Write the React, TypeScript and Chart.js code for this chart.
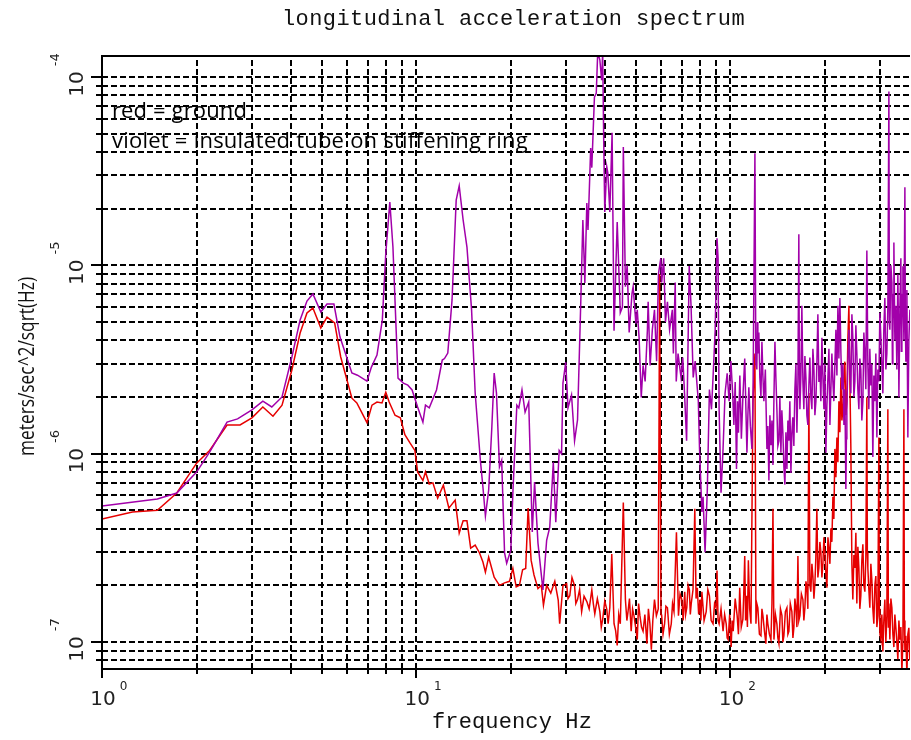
import { useEffect, useRef } from "react";
import { Chart, registerables } from "chart.js";

Chart.register(...registerables);

// Insulated tube on stiffening ring (violet trace): frequency in Hz, amplitude in m/s^2/sqrt(Hz)
const violetFreq = [
  1.0, 1.5, 1.73, 2.0, 2.2, 2.5, 2.7, 3.0, 3.25, 3.47, 3.74, 4.02, 4.27, 4.49, 4.69, 4.97, 5.2, 5.47, 5.72, 6.24,
  6.5, 6.97, 7.2, 7.5, 7.8, 8.0, 8.24, 8.43, 8.75, 9.1, 9.4, 9.7, 10.1, 10.5, 10.7, 11.0, 11.6, 12.1, 12.3, 12.6,
  13.0, 13.4, 13.7, 14.1, 14.5, 15.0, 15.4, 16.0, 16.3, 16.6, 17.0, 17.4, 17.7, 18.0, 18.4, 18.7, 19.1, 19.4, 20.0, 20.3,
  20.9, 21.2, 21.7, 22.2, 22.8, 23.4, 23.8, 24.4, 25.3, 26.0, 26.6, 27.3, 27.8, 28.5, 29.0, 29.3, 29.9, 30.4, 31.2, 31.9,
  32.6, 33.4, 33.9, 34.4, 34.9, 35.2, 35.9, 36.2, 36.9, 37.4, 37.8, 38.4, 38.9, 39.2, 39.5, 39.8, 40.4, 40.7, 41.3, 42.0,
  42.6, 43.6, 44.6, 45.3, 45.6, 46.3, 46.9, 47.6, 48.6, 49.0, 50.0, 50.5, 51.2, 52.0, 52.7, 53.5, 54.4, 54.7, 55.5, 56.4,
  57.3, 58.2, 59.0, 60.0, 60.4, 61.3, 62.1, 63.0, 64.0, 65.3, 65.8, 66.7, 67.2, 68.1, 69.6, 70.5, 71.5, 72.5, 73.9, 74.9,
  76.1, 77.2, 79.0, 79.7, 81.1, 81.8, 83.0, 84.4, 85.7, 87.0, 88.0, 89.4, 90.6, 91.3, 92.0, 93.3, 94.7, 96.1, 97.6, 99.0,
  100.3, 101.6, 102.5, 103.5, 104.5, 105.3, 106.0, 107.1, 108.3, 109.5, 111.0, 112.8, 113.6, 114.4, 115.7, 117.0, 117.9, 119.6, 120.4, 121.3,
  121.8, 122.2, 123.1, 124.0, 125.0, 125.9, 126.8, 127.7, 129.1, 130.6, 131.5, 132.5, 133.5, 134.5, 135.5, 136.5, 137.5, 138.5, 139.5, 140.5,
  141.5, 142.6, 143.6, 144.7, 145.7, 146.8, 147.9, 149.0, 150.1, 151.2, 152.3, 153.4, 154.5, 155.7, 156.8, 157.9, 159.1, 160.3, 161.5, 162.7,
  163.9, 165.0, 165.6, 166.3, 167.5, 168.7, 170.0, 171.2, 172.5, 173.8, 175.0, 176.3, 177.6, 178.9, 180.2, 181.6, 182.9, 184.3, 185.6, 187.0,
  188.3, 189.7, 191.1, 192.5, 193.9, 195.4, 196.8, 198.3, 199.7, 201.2, 202.7, 204.2, 205.7, 207.2, 208.7, 210.2, 211.8, 213.3, 214.9, 216.5,
  218.1, 219.7, 221.3, 222.9, 224.6, 226.2, 227.9, 229.6, 231.2, 232.9, 233.8, 234.6, 236.3, 238.1, 239.8, 241.6, 243.4, 245.1, 247.0, 248.8,
  250.6, 252.4, 254.3, 256.2, 258.0, 259.9, 261.8, 263.8, 265.7, 267.7, 269.6, 271.6, 273.6, 275.6, 277.6, 279.7, 281.7, 283.8, 285.9, 288.0,
  290.1, 292.3, 294.4, 296.6, 298.8, 301.0, 303.2, 305.4, 307.6, 309.9, 312.2, 314.5, 316.8, 319.2, 320.3, 321.5, 323.9, 326.3, 327.5, 328.7,
  329.9, 331.1, 333.5, 336.0, 338.4, 340.9, 342.2, 343.5, 346.0, 348.5, 349.8, 351.1, 352.4, 353.7, 356.3, 358.9, 360.2, 361.5, 362.8, 364.2,
  365.5, 366.8, 369.5, 372.3,
];
const violetAmp = [
  5.27e-7, 5.74e-7, 6.18e-7, 7.98e-7, 1.02e-6, 1.47e-6, 1.53e-6, 1.71e-6, 1.9e-6, 1.77e-6, 2.0e-6, 3.26e-6, 5.13e-6, 6.46e-6, 7.04e-6, 5.65e-6, 6.23e-6, 6.23e-6, 4.16e-6, 2.68e-6,
  2.61e-6, 2.43e-6, 2.88e-6, 3.34e-6, 5.13e-6, 1.16e-5, 2.17e-5, 1.25e-5, 2.52e-6, 2.37e-6, 2.31e-6, 2.18e-6, 1.77e-6, 1.47e-6, 1.81e-6, 1.75e-6, 2.18e-6, 3.14e-6, 3.2e-6, 3.42e-6,
  6.55e-6, 2.22e-5, 2.64e-5, 1.74e-5, 1.25e-5, 5.8e-6, 2.1e-6, 9.2e-7, 6.65e-7, 4.67e-7, 6.4e-7, 1.38e-6, 2.68e-6, 2.1e-6, 8.5e-7, 9.2e-7, 2.97e-7, 2.62e-7, 3.08e-7, 6.2e-7,
  1.81e-6, 1.75e-6, 2.18e-6, 1.66e-6, 1.88e-6, 3.84e-7, 7.06e-7, 3.35e-7, 1.89e-7, 3.47e-7, 4.07e-7, 9.0e-7, 4.33e-7, 1.04e-6, 1.0e-6, 2.37e-6, 3.06e-6, 1.75e-6, 2.05e-6, 1.17e-6,
  1.51e-6, 6.55e-6, 1.74e-5, 8.05e-6, 2.14e-5, 1.54e-5, 4.2e-5, 3.3e-5, 7.8e-5, 8.2e-5, 1.35e-4, 1.23e-4, 9.6e-5, 1.35e-4, 4.6e-5, 1.92e-5, 3.33e-5, 3.1e-5, 1.92e-5, 5.05e-5,
  4.5e-6, 1.7e-5, 5.6e-6, 6.0e-6, 4.25e-5, 7.7e-6, 1.0e-5, 4.4e-6, 7.1e-6, 7.7e-6, 4.9e-6, 5.8e-6, 4.1e-6, 1.99e-6, 2.94e-6, 2.42e-6, 4.55e-6, 6.4e-6, 2.94e-6, 4.55e-6,
  5.8e-6, 3.1e-6, 9.0e-6, 1.09e-5, 8.1e-6, 1.09e-5, 5.0e-6, 6.4e-6, 4.55e-6, 5.8e-6, 3.4e-6, 8.1e-6, 2.42e-6, 3.4e-6, 2.54e-6, 3.24e-6, 1.99e-6, 1.17e-6, 9.9e-6, 6.1e-6,
  2.54e-6, 3.1e-6, 1.9e-6, 1.06e-6, 4.9e-7, 5.9e-7, 3.0e-7, 6.5e-7, 2.19e-6, 1.72e-6, 2.54e-6, 4.55e-6, 1.39e-5, 1.09e-5, 1.72e-6, 6.2e-7, 1.06e-6, 2.09e-6, 2.67e-6, 1.9e-6,
  3.1e-6, 2.09e-6, 1.42e-6, 2.4e-6, 8.3e-7, 1.9e-6, 1.29e-6, 2.6e-6, 1.2e-6, 1.99e-6, 3.2e-6, 1.01e-6, 1.6e-6, 2.25e-6, 1.4e-6, 1.06e-6, 1.9e-6, 3.94e-5, 3.0e-6, 2.8e-6,
  5.0e-6, 3.4e-6, 4.4e-6, 2.54e-6, 2.0e-6, 3.93e-6, 2.6e-6, 1.9e-6, 2.8e-6, 1.06e-6, 1.4e-6, 7.2e-7, 1.6e-6, 1.11e-6, 1.5e-6, 8.7e-7, 2.0e-6, 3.93e-6, 2.5e-6, 1.72e-6,
  1.1e-6, 1.17e-6, 2.0e-6, 1.01e-6, 1.7e-6, 1.29e-6, 8.5e-7, 6.85e-7, 1.3e-6, 8.3e-7, 1.5e-6, 1.17e-6, 1.9e-6, 7.9e-7, 1.3e-6, 1.56e-6, 1.1e-6, 2.19e-6, 3.0e-6, 1.29e-6,
  2.4e-6, 1.46e-5, 3.0e-6, 1.72e-6, 2.6e-6, 6.1e-6, 2.4e-6, 1.72e-6, 3.3e-6, 2.54e-6, 1.6e-6, 1.42e-6, 2.3e-6, 3.24e-6, 2.0e-6, 1.72e-6, 3.6e-6, 2.8e-6, 1.6e-6, 1.9e-6,
  3.0e-6, 5.5e-6, 2.4e-6, 2.94e-6, 1.9e-6, 4.12e-6, 2.6e-6, 1.72e-6, 3.0e-6, 1.01e-6, 1.8e-6, 2.54e-6, 3.6e-6, 1.42e-6, 2.2e-6, 3.4e-6, 2.4e-6, 1.9e-6, 3.0e-6, 4.55e-6,
  2.6e-6, 6.1e-6, 3.2e-6, 6.7e-6, 3.4e-6, 2.19e-6, 3.0e-6, 1.42e-6, 2.2e-6, 6.5e-7, 1.2e-6, 1.72e-6, 3.0e-6, 4.55e-6, 2.8e-6, 2.09e-6, 5.5e-6, 4.12e-6, 2.0e-6, 2.42e-6,
  4.8e-6, 3.4e-6, 2.2e-6, 1.72e-6, 3.2e-6, 2.8e-6, 1.5e-6, 1.9e-6, 4.4e-6, 3.4e-6, 2.2e-6, 1.2e-5, 3.0e-6, 1.72e-6, 3.6e-6, 2.3e-6, 3.0e-6, 9.6e-7, 2.6e-6, 1.9e-6,
  3.4e-6, 1.22e-6, 2.8e-6, 2.42e-6, 5.6e-6, 4.12e-6, 3.0e-6, 2.09e-6, 4.6e-6, 6.7e-6, 2.8e-6, 3.4e-6, 6.0e-6, 8.36e-5, 5.0e-6, 4.55e-6, 1.0e-5, 8.1e-6, 3.0e-6, 4.12e-6,
  7.0e-6, 1.32e-5, 4.0e-6, 6.1e-6, 2.8e-6, 8.97e-6, 5.0e-6, 1.99e-6, 6.0e-6, 1.09e-5, 3.5e-6, 4.55e-6, 7.0e-6, 9.9e-6, 4.0e-6, 2.6e-5, 5.0e-6, 3.08e-6, 6.0e-6, 7.4e-6,
  3.0e-6, 1.22e-6, 4.0e-6, 5.8e-6,
];

// Ground (red trace)
const redFreq = [
  1.0, 1.25, 1.5, 1.73, 2.0, 2.2, 2.5, 2.75, 3.0, 3.25, 3.5, 3.74, 4.02, 4.27, 4.49, 4.69, 4.97, 5.2, 5.5, 5.75,
  6.24, 6.47, 6.97, 7.23, 7.5, 7.78, 8.0, 8.2, 8.56, 8.9, 9.2, 9.55, 9.9, 10.1, 10.5, 10.7, 11.0, 11.3, 11.7, 12.2,
  12.7, 13.3, 13.7, 14.1, 14.5, 14.9, 15.4, 15.9, 16.3, 16.6, 17.0, 17.7, 18.4, 19.1, 19.8, 20.3, 20.8, 21.3, 21.8, 22.3,
  22.7, 23.2, 23.7, 24.4, 25.0, 25.4, 26.0, 26.8, 27.6, 28.3, 28.6, 29.3, 30.1, 30.4, 30.8, 31.3, 31.9, 32.2, 32.6, 33.1,
  33.6, 34.2, 34.9, 35.5, 36.2, 36.6, 37.0, 37.7, 38.4, 38.8, 39.2, 39.8, 40.4, 40.8, 41.3, 41.9, 42.6, 43.1, 43.6, 44.1,
  44.6, 45.6, 46.3, 46.8, 47.2, 47.7, 48.3, 48.8, 49.3, 49.9, 50.5, 51.0, 51.5, 52.1, 52.7, 53.4, 54.2, 54.8, 55.4, 56.0,
  56.6, 57.3, 58.1, 58.9, 59.5, 60.1, 60.4, 61.0, 61.7, 62.3, 63.0, 63.9, 64.8, 65.4, 66.1, 67.3, 68.3, 69.1, 70.0, 70.7,
  71.5, 72.0, 72.6, 73.3, 74.0, 74.5, 75.0, 76.0, 77.0, 77.7, 78.4, 79.2, 80.0, 80.5, 81.1, 82.4, 83.7, 84.7, 85.7, 86.8,
  88.0, 89.0, 90.0, 90.6, 91.3, 92.0, 93.3, 94.7, 95.8, 96.9, 97.6, 98.3, 99.4, 100.5, 101.2, 102.0, 103.5, 105.0, 106.0, 107.0,
  108.2, 109.5, 110.2, 111.0, 111.7, 112.4, 113.2, 114.0, 115.1, 116.2, 117.9, 119.6, 120.5, 121.3, 122.2, 123.6, 125.0, 125.9, 126.8, 128.2,
  129.6, 130.6, 131.5, 133.0, 134.5, 135.5, 136.5, 137.5, 139.0, 140.5, 141.5, 142.6, 144.2, 145.8, 146.8, 147.9, 149.5, 151.2, 152.3, 153.4,
  155.0, 156.8, 158.0, 159.1, 160.3, 161.5, 162.7, 163.9, 165.0, 166.3, 168.1, 170.0, 171.2, 172.5, 173.8, 175.0, 176.3, 177.6, 178.9, 180.2,
  181.6, 182.9, 184.3, 185.6, 186.9, 188.3, 189.7, 191.1, 192.5, 193.9, 195.4, 196.8, 198.3, 199.7, 201.2, 202.7, 204.2, 205.7, 207.2, 208.7,
  210.2, 211.8, 213.3, 214.9, 216.5, 218.1, 219.7, 221.3, 222.9, 224.6, 226.2, 227.9, 229.6, 231.2, 232.9, 234.6, 236.3, 238.1, 239.8, 241.6,
  243.4, 245.1, 247.0, 248.8, 250.6, 252.4, 254.3, 256.2, 258.0, 259.9, 261.8, 263.8, 265.7, 267.7, 269.6, 271.6, 272.6, 273.6, 275.6, 277.6,
  279.7, 281.7, 283.8, 285.9, 288.0, 290.1, 292.3, 294.4, 296.6, 297.7, 299.0, 301.0, 303.2, 305.4, 307.6, 309.9, 312.2, 314.5, 316.8, 318.0,
  319.2, 321.5, 323.9, 326.3, 328.7, 331.1, 333.5, 336.0, 338.4, 340.9, 343.5, 346.0, 348.5, 351.1, 353.7, 356.3, 357.5, 359.0, 361.5, 364.2,
  366.8, 369.5, 372.0,
];
const redAmp = [
  4.5e-7, 4.9e-7, 5.0e-7, 6.18e-7, 8.9e-7, 1.04e-6, 1.42e-6, 1.42e-6, 1.55e-6, 1.77e-6, 1.58e-6, 1.81e-6, 2.78e-6, 4.37e-6, 5.58e-6, 5.93e-6, 4.65e-6, 5.31e-6, 4.94e-6, 3.26e-6,
  1.97e-6, 1.86e-6, 1.46e-6, 1.81e-6, 1.88e-6, 1.86e-6, 2.12e-6, 1.88e-6, 1.6e-6, 1.55e-6, 1.26e-6, 1.14e-6, 1.04e-6, 8.0e-7, 7.2e-7, 8.0e-7, 6.9e-7, 7.0e-7, 5.8e-7, 6.8e-7,
  5.14e-7, 5.67e-7, 3.79e-7, 4.4e-7, 4.4e-7, 3.15e-7, 3.27e-7, 2.97e-7, 2.66e-7, 2.35e-7, 2.82e-7, 2.21e-7, 2.0e-7, 2.06e-7, 2.1e-7, 2.46e-7, 1.96e-7, 2.0e-7, 2.42e-7, 2.46e-7,
  5.14e-7, 2.72e-7, 2.27e-7, 1.92e-7, 2.0e-7, 1.57e-7, 2.0e-7, 1.82e-7, 2.1e-7, 1.67e-7, 1.25e-7, 1.99e-7, 2.04e-7, 1.7e-7, 1.76e-7, 2.2e-7, 1.99e-7, 1.6e-7, 1.68e-7, 1.9e-7,
  1.45e-7, 1.75e-7, 1.64e-7, 1.5e-7, 1.89e-7, 1.6e-7, 1.41e-7, 1.7e-7, 1.45e-7, 1.2e-7, 1.32e-7, 1.65e-7, 1.49e-7, 1.25e-7, 1.52e-7, 2.93e-7, 1.25e-7, 1.15e-7, 9.6e-8, 1.4e-7,
  1.25e-7, 5.5e-7, 1.68e-7, 1.3e-7, 1.45e-7, 1.7e-7, 1.14e-7, 1.5e-7, 1.38e-7, 1.2e-7, 1.03e-7, 1.6e-7, 1.38e-7, 1.2e-7, 1.14e-7, 1.4e-7, 9.8e-8, 1.5e-7, 1.25e-7, 9.1e-8,
  1.3e-7, 1.68e-7, 1.38e-7, 1.5e-7, 9.0e-6, 1.4e-7, 1.38e-7, 1.1e-7, 1.25e-7, 1.55e-7, 1.52e-7, 1.1e-7, 1.25e-7, 1.6e-7, 1.45e-7, 3.83e-7, 1.38e-7, 1.8e-7, 1.68e-7, 1.3e-7,
  1.85e-7, 1.4e-7, 1.52e-7, 2.0e-7, 1.89e-7, 1.4e-7, 1.6e-7, 1.9e-7, 5.1e-7, 1.7e-7, 1.94e-7, 1.4e-7, 1.68e-7, 1.3e-7, 1.85e-7, 1.3e-7, 1.45e-7, 1.9e-7, 1.76e-7, 1.3e-7,
  1.25e-7, 1.6e-7, 1.52e-7, 2.4e-7, 1.3e-7, 1.25e-7, 1.5e-7, 1.14e-7, 1.4e-7, 1.25e-7, 1.05e-7, 1.03e-7, 1.4e-7, 9.4e-8, 1.3e-7, 1.14e-7, 1.7e-7, 1.38e-7, 1.1e-7, 1.94e-7,
  1.2e-7, 1.32e-7, 1.8e-7, 2.86e-7, 1.3e-7, 1.76e-7, 1.2e-7, 2.72e-7, 1.5e-7, 1.25e-7, 1.9e-6, 3.4e-6, 1.25e-7, 1.6e-7, 1.52e-7, 1.1e-7, 1.08e-7, 1.5e-7, 1.38e-7, 1.15e-7,
  9.8e-8, 1.4e-7, 1.25e-7, 1.1e-7, 1.03e-7, 1.6e-7, 5.1e-7, 1.03e-7, 1.4e-7, 1.25e-7, 1.05e-7, 9.8e-8, 1.5e-7, 1.38e-7, 1.0e-7, 1.08e-7, 1.45e-7, 1.52e-7, 1.1e-7, 1.14e-7,
  1.6e-7, 1.45e-7, 1.05e-7, 1.19e-7, 1.7e-7, 1.52e-7, 1.2e-7, 2.86e-7, 1.3e-7, 1.38e-7, 1.8e-7, 1.68e-7, 1.3e-7, 1.52e-7, 2.1e-7, 1.94e-7, 1.5e-7, 2.1e-6, 2.0e-7, 1.85e-7,
  2.6e-7, 2.24e-7, 1.7e-7, 2.04e-7, 2.8e-7, 5.1e-7, 2.2e-7, 2.47e-7, 3.4e-7, 3.0e-7, 2.2e-7, 2.59e-7, 3.6e-7, 3.0e-7, 2.3e-7, 1.94e-7, 3.6e-7, 3.15e-7, 2.6e-7, 4.02e-7,
  3.4e-7, 5.9e-7, 4.5e-7, 1.06e-6, 7.5e-7, 1.22e-6, 9.0e-7, 1.9e-6, 1.3e-6, 2.54e-6, 1.5e-6, 1.72e-6, 2.6e-6, 3.08e-6, 1.6e-6, 1.9e-6, 4.0e-6, 6.1e-6, 2.5e-6, 1.06e-6,
  2.59e-7, 1.68e-7, 2.9e-7, 2.47e-7, 3.8e-7, 1.6e-7, 3.2e-7, 2.47e-7, 1.5e-7, 1.76e-7, 2.7e-7, 3.3e-7, 2.0e-7, 1.85e-7, 2.8e-7, 1.99e-6, 3.0e-7, 2.47e-7, 1.9e-7, 1.52e-7,
  2.6e-7, 2.14e-7, 1.5e-7, 1.25e-7, 2.0e-7, 2.24e-7, 1.2e-7, 1.38e-7, 1.22e-6, 1.5e-7, 1.1e-7, 1.03e-7, 1.4e-7, 8.9e-8, 1.3e-7, 1.68e-7, 1.0e-7, 1.38e-7, 1.72e-6, 1.2e-7,
  1.6e-7, 1.03e-7, 1.7e-7, 1.52e-7, 1.1e-7, 9.4e-8, 1.4e-7, 1.19e-7, 1.0e-7, 8.1e-8, 1.3e-7, 1.03e-7, 1.2e-7, 7.0e-8, 1.0e-7, 1.72e-6, 1.3e-7, 9.0e-8, 1.08e-7, 6.7e-8,
  1.1e-7, 1.19e-7, 8.0e-8,
];

// Axis ranges and grid positions
const xRange = [1, 372.6];
const yRange = [7.19e-8, 1.292e-4];
const xGridValues = [2, 3, 4, 5, 6, 7, 8, 9, 10, 20, 30, 40, 50, 60, 70, 80, 90, 100, 200, 300];
const yGridValues = [
  8e-8, 9e-8,
  1e-7, 2e-7, 3e-7, 4e-7, 5e-7, 6e-7, 7e-7, 8e-7, 9e-7,
  1e-6, 2e-6, 3e-6, 4e-6, 5e-6, 6e-6, 7e-6, 8e-6, 9e-6,
  1e-5, 2e-5, 3e-5, 4e-5, 5e-5, 6e-5, 7e-5, 8e-5, 9e-5,
  1e-4,
];
const xMajorValues = [1, 10, 100];
const xMajorExponents = ["0", "1", "2"];
const yMajorValues = [1e-7, 1e-6, 1e-5, 1e-4];
const yMajorExponents = ["-7", "-6", "-5", "-4"];

const titleText = "longitudinal acceleration spectrum";
const xTitleText = "frequency Hz";
const yTitleText = "meters/sec^2/sqrt(Hz)";
const legendLines = ["red = ground", "violet = insulated tube on stiffening ring"];

const VIOLET = "#a200aa";
const RED = "#e60000";

// Draws text so that it spans a given width, adjusting the letter spacing.
function spacedText(ctx: CanvasRenderingContext2D, text: string, x: number, y: number, width: number) {
  ctx.letterSpacing = "0px";
  const w = ctx.measureText(text).width;
  const extra = (width - w) / text.length;
  ctx.letterSpacing = `${extra}px`;
  ctx.fillText(text, x, y);
  ctx.letterSpacing = "0px";
}

// Draws text squeezed horizontally to a given width.
function squeezedText(ctx: CanvasRenderingContext2D, text: string, x: number, y: number, width: number) {
  const w = ctx.measureText(text).width;
  ctx.save();
  ctx.translate(x, y);
  ctx.scale(width / w, 1);
  ctx.fillText(text, 0, 0);
  ctx.restore();
}

const frame = {
  id: "frame",
  beforeDatasetsDraw(chart: any) {
    const { ctx, chartArea: a, scales } = chart;
    const xs = scales.x;
    const ys = scales.y;
    ctx.save();
    ctx.strokeStyle = "#000";
    ctx.lineWidth = 2;
    ctx.setLineDash([6, 3]);
    for (const v of xGridValues) {
      const px = Math.round(xs.getPixelForValue(v));
      ctx.beginPath();
      ctx.moveTo(px, a.bottom);
      ctx.lineTo(px, a.top);
      ctx.stroke();
    }
    for (const v of yGridValues) {
      const py = Math.round(ys.getPixelForValue(v));
      ctx.beginPath();
      ctx.moveTo(a.left, py);
      ctx.lineTo(a.right, py);
      ctx.stroke();
    }
    ctx.restore();
  },
  afterDraw(chart: any) {
    const { ctx, chartArea: a, scales } = chart;
    const xs = scales.x;
    const ys = scales.y;
    ctx.save();
    ctx.setLineDash([]);
    ctx.strokeStyle = "#000";
    ctx.fillStyle = "#000";

    // box: top, left, bottom
    ctx.lineWidth = 2;
    ctx.beginPath();
    ctx.moveTo(a.right, a.top);
    ctx.lineTo(a.left, a.top);
    ctx.lineTo(a.left, a.bottom);
    ctx.lineTo(a.right, a.bottom);
    ctx.stroke();

    // tick marks
    ctx.lineWidth = 2;
    for (const v of yGridValues) {
      const py = Math.round(ys.getPixelForValue(v));
      const major = yMajorValues.some((m) => Math.abs(m - v) / m < 1e-6);
      ctx.beginPath();
      ctx.moveTo(a.left - (major ? 11 : 6), py);
      ctx.lineTo(a.left + 2, py);
      ctx.stroke();
    }
    for (const v of [1, ...xGridValues]) {
      const px = Math.round(xs.getPixelForValue(v));
      const major = xMajorValues.includes(v);
      ctx.beginPath();
      ctx.moveTo(px, a.bottom - 3);
      ctx.lineTo(px, a.bottom + (major ? 9 : 5));
      ctx.stroke();
    }

    // x tick labels: 10 with superscript exponent
    ctx.textBaseline = "alphabetic";
    ctx.fillStyle = "#222";
    xMajorValues.forEach((v, i) => {
      const px = xs.getPixelForValue(v) + 1;
      ctx.font = "20px 'DejaVu Sans'";
      const w = ctx.measureText("10").width;
      ctx.textAlign = "left";
      ctx.fillText("10", px - w / 2, 705);
      ctx.font = "12px 'DejaVu Sans'";
      ctx.fillText(xMajorExponents[i], px + w / 2 + 4, 690);
    });

    // y tick labels, rotated
    yMajorValues.forEach((v, i) => {
      const py = ys.getPixelForValue(v);
      ctx.save();
      ctx.translate(83, py);
      ctx.rotate(-Math.PI / 2);
      ctx.font = "20px 'DejaVu Sans'";
      const w10 = ctx.measureText("10").width;
      ctx.font = "13px 'DejaVu Sans'";
      const we = ctx.measureText(yMajorExponents[i]).width;
      const total = w10 + 5 + we;
      const start = -total / 2 + 2;
      ctx.textAlign = "left";
      ctx.font = "20px 'DejaVu Sans'";
      ctx.fillText("10", start, 0);
      ctx.font = "13px 'DejaVu Sans'";
      ctx.fillText(yMajorExponents[i], start + w10 + 5, -24.5);
      ctx.restore();
    });

    // titles
    ctx.fillStyle = "#111";
    ctx.font = "22px 'Liberation Mono'";
    ctx.textAlign = "left";
    spacedText(ctx, titleText, 282, 25, 463);
    spacedText(ctx, xTitleText, 432, 728, 160);

    ctx.save();
    ctx.translate(34, 367);
    ctx.rotate(-Math.PI / 2);
    ctx.font = "500 22px 'Open Sans'";
    ctx.textAlign = "left";
    squeezedText(ctx, yTitleText, -89, 0, 179);
    ctx.restore();

    // notes inside the plot
    ctx.fillStyle = "#000";
    ctx.font = "500 22px 'Open Sans'";
    ctx.textAlign = "left";
    spacedText(ctx, legendLines[0], 112, 118, 135);
    spacedText(ctx, legendLines[1], 112, 148, 416);

    ctx.restore();
  },
};

export default function App() {
  const canvasRef = useRef<HTMLCanvasElement | null>(null);

  useEffect(() => {
    const canvas = canvasRef.current;
    if (!canvas) return;
    const chart = new Chart(canvas, {
      type: "line",
      data: {
        datasets: [
          {
            label: "violet",
            data: violetFreq.map((f, i) => ({ x: f, y: violetAmp[i] })),
            borderColor: VIOLET,
            borderWidth: 1.5,
            pointRadius: 0,
            tension: 0,
            fill: false,
          },
          {
            label: "red",
            data: redFreq.map((f, i) => ({ x: f, y: redAmp[i] })),
            borderColor: RED,
            borderWidth: 1.5,
            pointRadius: 0,
            tension: 0,
            fill: false,
          },
        ],
      },
      options: {
        responsive: false,
        animation: false,
        events: [],
        layout: { padding: { left: 102, right: 1, top: 56, bottom: 71 } },
        scales: {
          x: { type: "logarithmic", min: xRange[0], max: xRange[1], display: false },
          y: { type: "logarithmic", min: yRange[0], max: yRange[1], display: false },
        },
        plugins: { legend: { display: false }, tooltip: { enabled: false } },
      },
      plugins: [frame],
    });
    return () => chart.destroy();
  }, []);

  return (
    <div style={{ position: "absolute", left: 0, top: 0, width: 911, height: 740, background: "#fff" }}>
      <canvas ref={canvasRef} width={911} height={740} style={{ width: 911, height: 740 }} />
    </div>
  );
}
